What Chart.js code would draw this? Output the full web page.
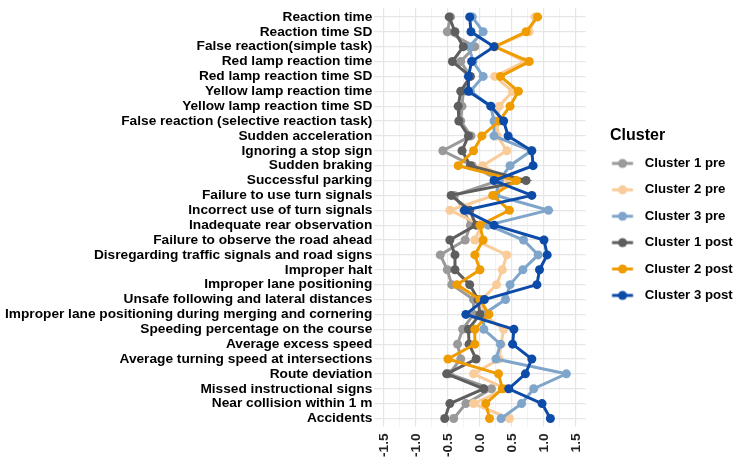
<!DOCTYPE html>
<html><head><meta charset="utf-8">
<script src="https://cdn.jsdelivr.net/npm/chart.js@4/dist/chart.umd.min.js"></script>
<style>html,body{margin:0;padding:0;background:#fff}#wrap{width:750px;height:464px}</style>
</head><body><div id="wrap"><canvas id="c" width="750" height="464"></canvas></div>
<script>
const categories = [
  "Reaction time","Reaction time SD","False reaction(simple task)","Red lamp reaction time",
  "Red lamp reaction time SD","Yellow lamp reaction time","Yellow lamp reaction time SD",
  "False reaction (selective reaction task)","Sudden acceleration","Ignoring a stop sign",
  "Sudden braking","Successful parking","Failure to use turn signals","Incorrect use of turn signals",
  "Inadequate rear observation","Failure to observe the road ahead",
  "Disregarding traffic signals and road signs","Improper halt","Improper lane positioning",
  "Unsafe following and lateral distances","Improper lane positioning during merging and cornering",
  "Speeding percentage on the course","Average excess speed","Average turning speed at intersections",
  "Route deviation","Missed instructional signs","Near collision within 1 m","Accidents"
];
const seriesNames = ["Cluster 1 pre","Cluster 2 pre","Cluster 3 pre","Cluster 1 post","Cluster 2 post","Cluster 3 post"];
const seriesColors = ["#9A9A9A","#F9CC9A","#7FA5CB","#5E5E5E","#EE9C00","#0D4BA8"];
const cluster1Pre  = [-0.46,-0.51,-0.08,-0.30,-0.15,-0.26,-0.28,-0.30,-0.14,-0.58,-0.12,0.30,-0.40,-0.25,-0.15,-0.23,-0.62,-0.51,-0.44,-0.10,-0.10,-0.27,-0.35,-0.30,-0.48,0.18,-0.22,-0.41];
const cluster2Pre  = [0.86,0.77,0.24,0.70,0.23,0.51,0.30,0.28,0.27,0.42,0.04,0.45,0.22,-0.47,0.02,-0.08,0.42,0.35,0.26,0.03,0.05,0.37,0.33,0.30,-0.10,0.40,-0.10,0.46];
const cluster3Pre  = [-0.12,0.05,-0.17,-0.11,0.05,-0.15,0.17,0.22,0.22,0.80,0.47,0.30,0.25,1.07,0.13,0.68,0.91,0.67,0.47,0.40,0.05,0.06,0.32,0.25,1.35,0.84,0.65,0.33];
const cluster1Post = [-0.48,-0.39,-0.26,-0.43,-0.15,-0.30,-0.34,-0.33,-0.18,-0.28,-0.15,0.72,-0.45,-0.16,-0.06,-0.47,-0.39,-0.39,-0.16,-0.03,0.00,-0.18,-0.17,-0.06,-0.52,0.06,-0.47,-0.55];
const cluster2Post = [0.90,0.72,0.23,0.77,0.32,0.60,0.47,0.30,0.03,-0.10,-0.34,0.57,0.20,0.46,0.00,0.05,-0.08,0.00,-0.36,0.00,0.14,-0.08,-0.08,-0.50,0.29,0.35,0.09,0.15];
const cluster3Post = [-0.16,-0.14,0.22,-0.13,-0.18,-0.18,0.17,0.37,0.44,0.81,0.83,0.22,0.81,-0.24,0.22,1.00,1.05,0.93,0.89,0.07,-0.22,0.53,0.51,0.81,0.71,0.45,0.97,1.10];
const xTicks = [-1.5,-1.0,-0.5,0.0,0.5,1.0,1.5];
const legendTitle = "Cluster";

const allSeries = [cluster1Pre, cluster2Pre, cluster3Pre, cluster1Post, cluster2Post, cluster3Post];
const FONT = "'Liberation Sans', Arial, Helvetica, sans-serif";

function legendSymbol(color) {
  const cv = document.createElement('canvas');
  cv.width = 40; cv.height = 12;
  const g = cv.getContext('2d');
  g.strokeStyle = color; g.lineWidth = 3;
  g.beginPath(); g.moveTo(1.3, 6); g.lineTo(22.3, 6); g.stroke();
  g.fillStyle = color; g.beginPath(); g.arc(11.8, 6, 4.5, 0, Math.PI * 2); g.fill();
  return cv;
}
const symbols = seriesColors.map(legendSymbol);

const datasets = allSeries.map((vals, i) => ({
  label: seriesNames[i],
  data: vals.map((v, j) => ({ x: v, y: j })),
  borderColor: seriesColors[i],
  backgroundColor: seriesColors[i],
  borderWidth: 3,
  pointRadius: 4.5,
  pointBorderWidth: 0,
  pointBackgroundColor: seriesColors[i],
  tension: 0,
  fill: false,
  order: allSeries.length - i
}));

const layoutFix = {
  id: 'layoutFix',
  afterInit(chart) {
    const lg = chart.legend;
    if (lg) {
      const f = lg.fit;
      lg.fit = function () { f.call(this); this.width = 164.4; };
    }
  },
  afterLayout(chart) {
    if (chart.legend) chart.legend.left = chart.chartArea.right + 24.4;
  }
};

new Chart(document.getElementById('c'), {
  type: 'line',
  data: { datasets },
  plugins: [layoutFix],
  options: {
    responsive: false,
    animation: false,
    indexAxis: 'y',
    layout: { padding: { left: 5, top: 8, right: 0, bottom: 1 } },
    scales: {
      x: {
        type: 'linear', min: -1.65, max: 1.65,
        afterBuildTicks: s => {
          const t = [];
          xTicks.forEach((v, i) => { t.push({ value: v }); if (i < xTicks.length - 1) t.push({ value: (v + xTicks[i + 1]) / 2 }); });
          s.ticks = t;
        },
        ticks: {
          autoSkip: false, maxRotation: 90, minRotation: 90, padding: 6,
          color: '#222', font: { family: FONT, size: 13.7, weight: 'bold' },
          callback: v => xTicks.includes(v) ? v.toFixed(1) : ''
        },
        grid: {
          drawTicks: false,
          color: c => (c.tick && xTicks.includes(c.tick.value)) ? '#E6E6E6' : '#EFEFEF',
          lineWidth: c => (c.tick && xTicks.includes(c.tick.value)) ? 1.2 : 0.8
        },
        border: { display: false }
      },
      y: {
        type: 'linear', reverse: true, min: -0.6, max: categories.length - 0.4,
        afterBuildTicks: s => { s.ticks = categories.map((c, i) => ({ value: i })); },
        afterFit: s => {
          const ctx = s.ctx; ctx.save();
          ctx.font = "bold 13.7px " + FONT;
          let m = 0; categories.forEach(c => { m = Math.max(m, ctx.measureText(c).width); });
          ctx.restore();
          s.width = m + 2;
          s.paddingTop = 0; s.paddingBottom = 0;
        },
        ticks: {
          autoSkip: false, padding: 2, color: '#000',
          font: { family: FONT, size: 13.7, weight: 'bold' },
          callback: v => categories[v]
        },
        grid: { drawTicks: false, color: '#E6E6E6', lineWidth: 1.2 },
        border: { display: false }
      }
    },
    plugins: {
      tooltip: { enabled: false },
      legend: {
        position: 'right', align: 'start',
        title: { display: true, text: legendTitle, position: 'start', color: '#000',
                 font: { family: FONT, size: 16, weight: 'bold' }, padding: { top: 119.5, bottom: -3.1 } },
        labels: {
          usePointStyle: true, pointStyleWidth: 15, padding: 13.2, color: '#000',
          font: { family: FONT, size: 13.2, weight: 'bold' },
          generateLabels: chart => chart.data.datasets.map((ds, i) => ({
            text: ds.label, pointStyle: symbols[i], fillStyle: ds.borderColor,
            strokeStyle: ds.borderColor, lineWidth: 0, hidden: false, datasetIndex: i, fontColor: '#000'
          }))
        }
      }
    }
  }
});
</script></body></html>
